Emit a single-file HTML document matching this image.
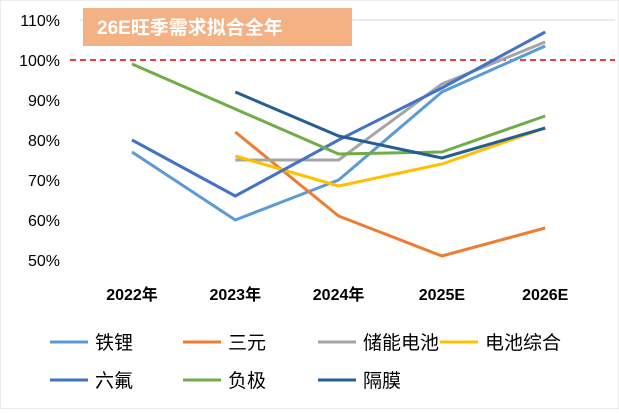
<!DOCTYPE html>
<html><head><meta charset="utf-8"><style>
body{margin:0;background:#fff;}
svg{font-family:"Liberation Sans","Noto Sans CJK SC",sans-serif;}
</style></head><body>
<svg id="c" width="619" height="409">
<rect x="0" y="0" width="619" height="409" fill="#fff" stroke="#d9d9d9"/>
</svg>
<script>
const categories=["2022年","2023年","2024年","2025E","2026E"];
const yTicks=[50,60,70,80,90,100,110];
const sTieli=[77,60,70,92,103.5];
const sSanyuan=[null,82,61,51,58];
const sChuneng=[null,75,75,94,104.5];
const sZonghe=[null,76,68.5,74,83];
const sLiufu=[80,66,80,93,107];
const sFuji=[99,null,76.5,77,86];
const sGemo=[null,92,81,75.5,83];
const seriesNames=["铁锂","三元","储能电池","电池综合","六氟","负极","隔膜"];
const seriesData=[sTieli,sSanyuan,sChuneng,sZonghe,sLiufu,sFuji,sGemo];
const colors=["#5B9BD5","#ED7D31","#A5A5A5","#FFC000","#4472C4","#70AD47","#255E91"];
const svg=document.getElementById('c');const NS="http://www.w3.org/2000/svg";
function y(v){return 260-(v-50)*4;}
function x(i){return 132+i*103.3;}
function mk(t,a,txt){const e=document.createElementNS(NS,t);for(const k in a)e.setAttribute(k,a[k]);if(txt!==undefined)e.textContent=txt;svg.appendChild(e);return e;}
let g=mk('line',{x1:80,x2:615,y1:y(110),y2:y(110),stroke:'#d9d9d9'});


yTicks.forEach(t=>{const e=mk('text',{x:60,y:y(t)+6,'text-anchor':'end','font-size':16,fill:'#000'},t+'%');

});
categories.forEach((c,i)=>{const e=mk('text',{x:x(i),y:300,'text-anchor':'middle','font-size':16,'font-weight':'bold',fill:'#000'},c);

});
let r=mk('line',{x1:70,x2:615,y1:y(100),y2:y(100),stroke:'#e00000','stroke-width':1.5,'stroke-dasharray':'6,4'});


seriesData.forEach((s,k)=>{let pts=[];s.forEach((v,i)=>{if(v!==null)pts.push(x(i)+','+y(v));});
const p=mk('polyline',{points:pts.join(' '),fill:'none',stroke:colors[k],'stroke-width':3,'stroke-linejoin':'round'});

});
const b=mk('rect',{x:83,y:8,width:269,height:38,fill:'#F4B183'});


const tt=mk('text',{x:97,y:34,'font-size':19,'font-weight':'bold',fill:'#fff'},'26E旺季需求拟合全年');


const lx=[50,183,318,440,50,183,318],ly=[342,342,342,342,380,380,380];
seriesNames.forEach((n,k)=>{const l=mk('line',{x1:lx[k],x2:lx[k]+38,y1:ly[k],y2:ly[k],stroke:colors[k],'stroke-width':3});


const t=mk('text',{x:lx[k]+45,y:ly[k]+7,'font-size':19,fill:'#000'},n);

});
</script>
</body></html>
